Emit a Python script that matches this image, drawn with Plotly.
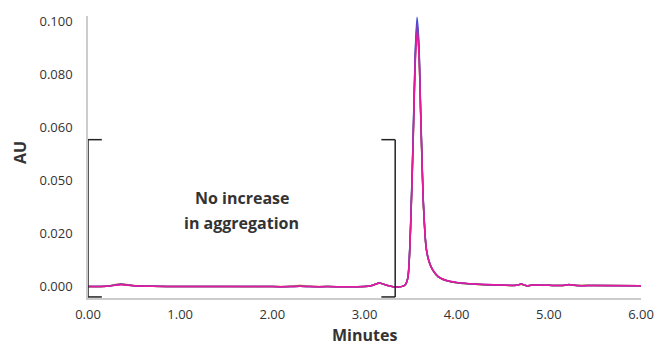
import plotly.graph_objects as go

# ---- data ----
time_min = [0.00, 0.20, 0.30, 0.36, 0.42, 0.50, 0.70, 1.00, 1.50, 2.00, 2.20, 2.30, 2.40,
            2.60, 3.00, 3.08, 3.16, 3.24, 3.32, 3.40, 3.44, 3.47, 3.50, 3.53, 3.55,
            3.57, 3.59, 3.61, 3.64, 3.67, 3.70, 3.74, 3.80, 3.90, 4.00, 4.20, 4.50,
            4.65, 4.70, 4.76, 4.82, 5.00, 5.15, 5.22, 5.30, 5.50, 6.00]

au_blue = [-0.0002, -0.0001, 0.0004, 0.0007, 0.0004, 0.0001, -0.0001, -0.0002, -0.0002, -0.0002, -0.0002, -0.0001, -0.0002,
           -0.0002, -0.0002, 0.0002, 0.0012, 0.0003, -0.0003, -0.0002, 0.0004, 0.0032, 0.0230, 0.0600, 0.0880,
           0.1015, 0.0920, 0.0660, 0.0310, 0.0145, 0.0095, 0.0062, 0.0036, 0.0020, 0.0014, 0.0008, 0.0004,
           0.0003, 0.0008, 0.0001, 0.0004, 0.0003, 0.0002, 0.0006, 0.0002, 0.0002, 0.0001]

au_purple = [-0.0002, -0.0001, 0.0005, 0.0008, 0.0005, 0.0001, -0.0001, -0.0002, -0.0002, -0.0002, -0.0002, -0.0001, -0.0002,
             -0.0002, -0.0002, 0.0002, 0.0013, 0.0003, -0.0003, -0.0002, 0.0004, 0.0031, 0.0225, 0.0590, 0.0865,
             0.0995, 0.0905, 0.0650, 0.0305, 0.0142, 0.0093, 0.0060, 0.0035, 0.0019, 0.0013, 0.0007, 0.0003,
             0.0003, 0.0008, 0.0001, 0.0004, 0.0003, 0.0002, 0.0006, 0.0002, 0.0002, 0.0001]

au_green = [-0.0002, -0.0001, 0.0004, 0.0006, 0.0004, 0.0001, -0.0001, -0.0002, -0.0002, -0.0002, -0.0002, 0.0000, -0.0002,
            -0.0002, -0.0002, 0.0002, 0.0011, 0.0003, -0.0003, -0.0002, 0.0004, 0.0030, 0.0220, 0.0580, 0.0850,
            0.0980, 0.0895, 0.0645, 0.0300, 0.0140, 0.0092, 0.0060, 0.0035, 0.0019, 0.0013, 0.0007, 0.0003,
            0.0003, 0.0007, 0.0001, 0.0004, 0.0003, 0.0002, 0.0005, 0.0002, 0.0002, 0.0001]

au_orange = [-0.0002, -0.0001, 0.0006, 0.0009, 0.0006, 0.0002, -0.0001, -0.0002, -0.0002, -0.0002, -0.0001, 0.0003, -0.0001,
             -0.0002, -0.0002, 0.0002, 0.0012, 0.0003, -0.0003, -0.0002, 0.0004, 0.0030, 0.0218, 0.0575, 0.0845,
             0.0970, 0.0885, 0.0640, 0.0298, 0.0140, 0.0092, 0.0060, 0.0035, 0.0019, 0.0013, 0.0007, 0.0003,
             0.0003, 0.0007, 0.0001, 0.0004, 0.0003, 0.0002, 0.0005, 0.0002, 0.0002, 0.0001]

au_magenta = [-0.0002, -0.0001, 0.0003, 0.0005, 0.0003, 0.0001, -0.0001, -0.0002, -0.0002, -0.0002, -0.0002, -0.0001, -0.0002,
              -0.0002, -0.0002, 0.0002, 0.0012, 0.0003, -0.0003, -0.0002, 0.0004, 0.0029, 0.0215, 0.0570, 0.0835,
              0.0960, 0.0880, 0.0640, 0.0300, 0.0142, 0.0093, 0.0061, 0.0036, 0.0020, 0.0014, 0.0008, 0.0004,
              0.0003, 0.0008, 0.0001, 0.0004, 0.0003, 0.0002, 0.0006, 0.0002, 0.0002, 0.0001]

series = [
    ("Sample 4", au_orange, "#f2a23a"),
    ("Sample 3", au_green, "#7c9a2a"),
    ("Sample 1", au_blue, "#3d4fe0"),
    ("Sample 2", au_purple, "#7a3fb8"),
    ("Sample 5", au_magenta, "#e8199c"),
]

x_tick_vals = [0, 1, 2, 3, 4, 5, 6]
x_tick_text = ["0.00", "1.00", "2.00", "3.00", "4.00", "5.00", "6.00"]
y_tick_vals = [0.0, 0.02, 0.04, 0.06, 0.08, 0.10]
y_tick_text = ["0.000", "0.020", "0.050", "0.060", "0.080", "0.100"]

annotation_lines = ["No increase", "in aggregation"]
bracket_start, bracket_end, bracket_top = 0.0, 3.333, 0.0553

# ---- figure ----
fig = go.Figure()
for name, vals, color in series:
    fig.add_trace(go.Scatter(
        x=time_min, y=vals, mode="lines", name=name,
        line=dict(color=color, width=1.5, shape="spline", smoothing=0.7),
        showlegend=False,
    ))

font_family = "Open Sans, Lato, DejaVu Sans, sans-serif"
text_color = "#333333"
y_min, y_max = -0.0045, 0.1020

fig.update_layout(
    width=666, height=346,
    margin=dict(l=88, r=20, t=15, b=48),
    plot_bgcolor="white", paper_bgcolor="white",
    font=dict(family=font_family, size=13, color=text_color),
    xaxis=dict(
        range=[0, 6], tickvals=x_tick_vals, ticktext=x_tick_text,
        showgrid=False, zeroline=False, showline=True, linecolor="#cccccc", linewidth=1.5,
        ticks="", ticklabelstandoff=4, tickfont=dict(size=13, color=text_color),
    ),
    yaxis=dict(
        range=[y_min, y_max], tickvals=y_tick_vals, ticktext=y_tick_text,
        showgrid=False, zeroline=False, showline=True, linecolor="#cccccc", linewidth=1.5,
        ticks="", ticklabelstandoff=11, tickfont=dict(size=13, color=text_color),
    ),
)

# bracket
bc = "#222222"
bw = 1.5
for xb, xt in [(bracket_start, bracket_start + 0.15), (bracket_end, bracket_end - 0.15)]:
    fig.add_shape(type="line", x0=xb, x1=xb, y0=y_min + 0.0004, y1=bracket_top,
                  line=dict(color=bc, width=bw))
    fig.add_shape(type="line", x0=xb, x1=xt, y0=bracket_top, y1=bracket_top,
                  line=dict(color=bc, width=bw))
    fig.add_shape(type="line", x0=xb, x1=xt, y0=y_min + 0.0004, y1=y_min + 0.0004,
                  line=dict(color=bc, width=bw))

fig.add_annotation(x=1.667, y=0.0333, text="<b>" + annotation_lines[0] + "</b>",
                   showarrow=False, font=dict(size=16, color=text_color), xanchor="center", yanchor="middle")
fig.add_annotation(x=1.667, y=0.0239, text="<b>" + annotation_lines[1] + "</b>",
                   showarrow=False, font=dict(size=16, color=text_color), xanchor="center", yanchor="middle")

# axis titles
fig.add_annotation(xref="paper", yref="paper", x=-0.122, y=0.516, text="<b>AU</b>",
                   textangle=-90, showarrow=False, font=dict(size=16, color=text_color),
                   xanchor="center", yanchor="middle")
fig.add_annotation(xref="paper", yref="paper", x=0.5, y=-0.131, text="<b>Minutes</b>",
                   showarrow=False, font=dict(size=16, color=text_color),
                   xanchor="center", yanchor="middle")

fig.write_html("out.html", config={"displayModeBar": False},
               post_script="document.body.style.margin='0';")
